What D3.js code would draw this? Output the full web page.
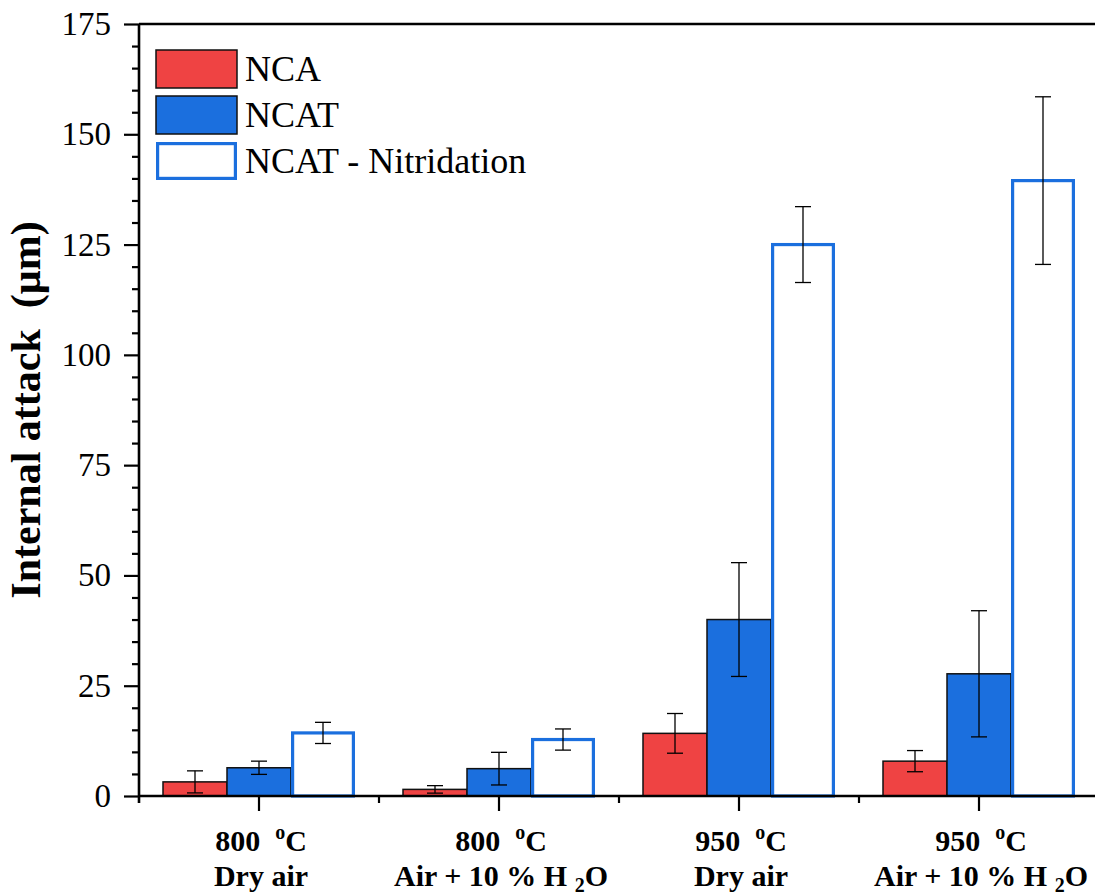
<!DOCTYPE html>
<html>
<head>
<meta charset="utf-8">
<script src="https://cdn.jsdelivr.net/npm/d3@7"></script>
<style>
  html, body { margin: 0; padding: 0; background: #fff; }
  svg { display: block; }
  svg text { font-family: "Liberation Serif", "DejaVu Serif", serif; }
</style>
</head>
<body>
<svg id="chart" width="1095" height="896"></svg>
<script>
// categories (temperature / atmosphere)
const categories = ['800-dry', '800-wet', '950-dry', '950-wet'];
const tempLabels = ['800', '800', '950', '950'];
const atmLabels = ['Dry air', 'Air + 10 % H2O', 'Dry air', 'Air + 10 % H2O'];

// series
const seriesNames = ['NCA', 'NCAT', 'NCAT - Nitridation'];
const ncaValues = [3.2, 1.5, 14.2, 7.9];
const ncaErrors = [2.5, 0.85, 4.5, 2.4];
const ncatValues = [6.4, 6.2, 40.0, 27.7];
const ncatErrors = [1.5, 3.7, 12.9, 14.3];
const nitrValues = [14.3, 12.8, 125.0, 139.5];
const nitrErrors = [2.4, 2.4, 8.6, 19.0];

const yTicks = [0, 25, 50, 75, 100, 125, 150, 175];

const RED = '#ef4343';
const BLUE = '#1b6fde';
const SERIF = '"Liberation Serif", "DejaVu Serif", serif';

const svg = d3.select('#chart');
const plot = { l: 139, r: 1099, t: 24, b: 796 };

const x = d3.scaleBand().domain(categories).range([plot.l, plot.r])
  .paddingInner(0.2).paddingOuter(0.1);
const xs = d3.scaleBand().domain(seriesNames).range([0, x.bandwidth()]);
const y = d3.scaleLinear().domain([0, 175]).range([plot.b, plot.t]);

const seriesData = [
  { name: 'NCA', values: ncaValues, errors: ncaErrors, fill: RED, stroke: '#111', sw: 1.5 },
  { name: 'NCAT', values: ncatValues, errors: ncatErrors, fill: BLUE, stroke: '#111', sw: 1.5 },
  { name: 'NCAT - Nitridation', values: nitrValues, errors: nitrErrors, fill: '#fff', stroke: BLUE, sw: 3.2 }
];

// bars
const gBars = svg.append('g');
seriesData.forEach(s => {
  gBars.selectAll(null)
    .data(categories.map((c, i) => ({ c, v: s.values[i] })))
    .enter().append('rect')
    .attr('x', d => x(d.c) + xs(s.name) + (s.sw > 2 ? s.sw / 2 : 0))
    .attr('y', d => y(d.v))
    .attr('width', xs.bandwidth() - (s.sw > 2 ? s.sw : 0))
    .attr('height', d => y(0) - y(d.v))
    .attr('fill', s.fill)
    .attr('stroke', s.stroke)
    .attr('stroke-width', s.sw);
});

// error bars
const gErr = svg.append('g').attr('stroke', '#000').attr('stroke-width', 1.3);
seriesData.forEach(s => {
  categories.forEach((c, i) => {
    const cx = x(c) + xs(s.name) + xs.bandwidth() / 2;
    const hi = y(s.values[i] + s.errors[i]);
    const lo = y(s.values[i] - s.errors[i]);
    gErr.append('line').attr('x1', cx).attr('x2', cx).attr('y1', hi).attr('y2', lo);
    gErr.append('line').attr('x1', cx - 8).attr('x2', cx + 8).attr('y1', hi).attr('y2', hi);
    gErr.append('line').attr('x1', cx - 8).attr('x2', cx + 8).attr('y1', lo).attr('y2', lo);
  });
});

// y axis: minor ticks then major ticks with labels
const minorY = d3.range(0, 176, 5).filter(v => v % 25 !== 0);
svg.append('g')
  .attr('transform', `translate(${plot.l},0)`)
  .call(d3.axisLeft(y).tickValues(minorY).tickSize(7).tickFormat(''))
  .call(g => g.select('.domain').remove())
  .selectAll('line').attr('stroke', '#000').attr('stroke-width', 2.2);

const yAxis = svg.append('g')
  .attr('transform', `translate(${plot.l},0)`)
  .call(d3.axisLeft(y).tickValues(yTicks).tickSize(15).tickPadding(13).tickSizeOuter(0));
yAxis.attr('font-family', SERIF);
yAxis.select('.domain').attr('stroke', '#000').attr('stroke-width', 2.6)
  .attr('d', `M0,${plot.t}V${plot.b + 7}`);
yAxis.selectAll('.tick line').attr('stroke', '#000').attr('stroke-width', 2.2);
yAxis.selectAll('.tick text')
  .style('font-family', SERIF)
  .attr('font-size', 33).attr('fill', '#000');

// top frame line
svg.append('line')
  .attr('x1', plot.l).attr('x2', plot.r).attr('y1', plot.t).attr('y2', plot.t)
  .attr('stroke', '#000').attr('stroke-width', 2.6);

// x axis: major ticks at categories, short ticks at boundaries
const xAxis = svg.append('g')
  .attr('transform', `translate(0,${plot.b})`)
  .call(d3.axisBottom(x).tickSize(15).tickFormat('').tickSizeOuter(0));
xAxis.select('.domain').attr('stroke', '#000').attr('stroke-width', 2.6)
  .attr('d', `M${plot.l},0H${plot.r}`);
xAxis.selectAll('.tick line').attr('stroke', '#000').attr('stroke-width', 2.2);

const boundaries = categories.slice(1).map(c => x(c) - x.step() * x.paddingInner() / 2);
xAxis.selectAll('.bnd').data(boundaries).enter().append('line')
  .attr('x1', d => d).attr('x2', d => d).attr('y1', 0).attr('y2', 7)
  .attr('stroke', '#000').attr('stroke-width', 2.2);

// x category labels
const gLab = svg.append('g')
  .attr('font-weight', 'bold').attr('font-size', 30).attr('text-anchor', 'middle')
  .attr('fill', '#000');
categories.forEach((c, i) => {
  const cx = x(c) + x.bandwidth() / 2 + 2;
  const t1 = gLab.append('text').attr('x', cx).attr('y', 851).style('white-space', 'pre');
  t1.append('tspan').text(tempLabels[i] + '  ');
  t1.append('tspan').attr('font-size', 20).attr('dy', -12).text('o');
  t1.append('tspan').attr('dy', 12).text('C');

  const t2 = gLab.append('text').attr('x', cx).attr('y', 886).style('white-space', 'pre');
  const a = atmLabels[i];
  if (a.endsWith('H2O')) {
    t2.append('tspan').text(a.replace('H2O', 'H '));
    t2.append('tspan').attr('font-size', 20).attr('dy', 6).text('2');
    t2.append('tspan').attr('dy', -6).text('O');
  } else {
    t2.append('tspan').text(a);
  }
});

// y axis title
svg.append('text')
  .attr('transform', `translate(40,${(plot.t + plot.b) / 2}) rotate(-90)`)
  .attr('text-anchor', 'middle')
  .attr('font-weight', 'bold').attr('font-size', 42)
  .style('white-space', 'pre')
  .text('Internal attack  (\u03bcm)');

// legend
const legend = svg.append('g').attr('transform', 'translate(156,50)');
seriesData.forEach((s, i) => {
  const g = legend.append('g').attr('transform', `translate(0,${i * 46})`);
  const inset = s.sw > 2 ? s.sw / 2 : 0;
  g.append('rect')
    .attr('x', inset).attr('y', inset)
    .attr('width', 81 - inset * 2).attr('height', 38 - inset * 2)
    .attr('fill', s.fill).attr('stroke', s.stroke).attr('stroke-width', s.sw);
  g.append('text')
    .attr('x', 89).attr('y', 31)
    .attr('font-size', 36).attr('fill', '#000')
    .text(s.name);
});
</script>
</body>
</html>
